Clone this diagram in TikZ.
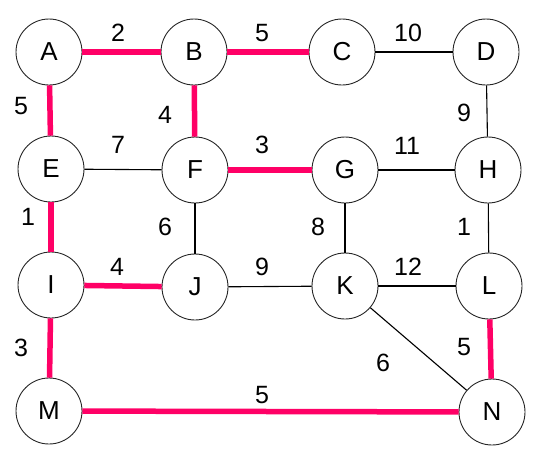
\documentclass[tikz,border=0pt]{standalone}
\usepackage{fontspec}
\setmainfont{Liberation Sans}
\definecolor{mstpink}{RGB}{255,0,102}
\tikzset{
  vtx/.style={circle, draw=black!85, line width=0.9pt, fill=white, minimum size=66pt, inner sep=0pt, font=\fontsize{26}{26}\selectfont},
  wlab/.style={inner sep=0pt, font=\fontsize{25}{25}\selectfont},
  thinedge/.style={draw=black, line width=1.1pt},
  mstedge/.style={draw=mstpink, line width=5.5pt}
}
\begin{document}
\begin{tikzpicture}[x=1pt,y=-1pt]
\useasboundingbox (0,0) rectangle (533,451);
% vertices
\node[vtx] (A) at (49,52) {A};
\node[vtx] (B) at (194,52) {B};
\node[vtx] (C) at (342,52) {C};
\node[vtx] (D) at (486,52) {D};
\node[vtx] (E) at (51,169) {E};
\node[vtx] (F) at (195,170) {F};
\node[vtx] (G) at (345,170) {G};
\node[vtx] (H) at (488,170) {H};
\node[vtx] (I) at (51,285) {I};
\node[vtx] (J) at (195,287) {J};
\node[vtx] (K) at (345,286) {K};
\node[vtx] (L) at (489,286) {L};
\node[vtx] (M) at (49,411) {M};
\node[vtx] (N) at (492,412) {N};
% thin edges (all)
\draw[thinedge] (A) -- (B);
\draw[thinedge] (B) -- (C);
\draw[thinedge] (C) -- (D);
\draw[thinedge] (A) -- (E);
\draw[thinedge] (B) -- (F);
\draw[thinedge] (D) -- (H);
\draw[thinedge] (E) -- (F);
\draw[thinedge] (F) -- (G);
\draw[thinedge] (G) -- (H);
\draw[thinedge] (E) -- (I);
\draw[thinedge] (F) -- (J);
\draw[thinedge] (G) -- (K);
\draw[thinedge] (H) -- (L);
\draw[thinedge] (I) -- (J);
\draw[thinedge] (J) -- (K);
\draw[thinedge] (K) -- (L);
\draw[thinedge] (I) -- (M);
\draw[thinedge] (K) -- (N);
\draw[thinedge] (L) -- (N);
\draw[thinedge] (M) -- (N);
% MST edges
\draw[mstedge] (A) -- (B);
\draw[mstedge] (B) -- (C);
\draw[mstedge] (A) -- (E);
\draw[mstedge] (B) -- (F);
\draw[mstedge] (F) -- (G);
\draw[mstedge] (E) -- (I);
\draw[mstedge] (I) -- (J);
\draw[mstedge] (I) -- (M);
\draw[mstedge] (L) -- (N);
\draw[mstedge] (M) -- (N);
% weights
\node[wlab] (wAB) at (118,33) {2};
\node[wlab] (wBC) at (262,33) {5};
\node[wlab] (wCD) at (408,33) {10};
\node[wlab] (wAE) at (21,106) {5};
\node[wlab] (wBF) at (165,115) {4};
\node[wlab] (wDH) at (464,113) {9};
\node[wlab] (wEF) at (118,145) {7};
\node[wlab] (wFG) at (262,145) {3};
\node[wlab] (wGH) at (407,146) {11};
\node[wlab] (wEI) at (28,217) {1};
\node[wlab] (wFJ) at (165,227) {6};
\node[wlab] (wGK) at (318,227) {8};
\node[wlab] (wHL) at (464,227) {1};
\node[wlab] (wIJ) at (117,267) {4};
\node[wlab] (wJK) at (262,267) {9};
\node[wlab] (wKL) at (408,267) {12};
\node[wlab] (wIM) at (21,348) {3};
\node[wlab] (wKN) at (383,363) {6};
\node[wlab] (wLN) at (464,347) {5};
\node[wlab] (wMN) at (262,395) {5};
\end{tikzpicture}
\end{document}
